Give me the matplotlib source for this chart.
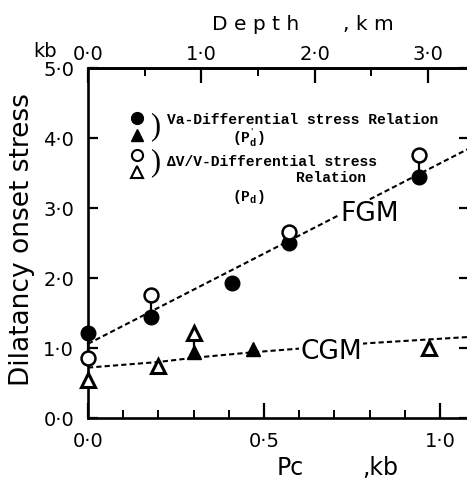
import numpy as np
import matplotlib.pyplot as plt
from matplotlib.ticker import FixedLocator, FuncFormatter

plt.rcParams['mathtext.fontset'] = 'custom'
plt.rcParams['mathtext.rm'] = 'Liberation Mono:bold'
plt.rcParams['mathtext.it'] = 'Liberation Mono:bold'

# Data (Pc in kb, stress in kb)
va_fgm_x = [0.0, 0.18, 0.41, 0.57, 0.94]
va_fgm_y = [1.21, 1.45, 1.93, 2.50, 3.44]
dv_fgm_x = [0.0, 0.18, 0.57, 0.94]
dv_fgm_y = [0.86, 1.76, 2.66, 3.76]
va_cgm_x = [0.30, 0.47]
va_cgm_y = [0.94, 0.98]
dv_cgm_x = [0.0, 0.20, 0.30, 0.97]
dv_cgm_y = [0.55, 0.74, 1.21, 1.00]

# dashed trend lines
fgm_line_x = [0.0, 1.09]
fgm_line_y = [1.06, 3.87]
cgm_line_x = [0.0, 0.20, 0.30, 0.47, 0.80, 1.09]
cgm_line_y = [0.72, 0.80, 0.86, 0.94, 1.07, 1.16]

km_to_kb = 0.322  # top axis conversion

def dot_fmt(v, p):
    return f"{v:.1f}".replace('.', '\u00b7')

W, H = 467, 483
fig = plt.figure(figsize=(W / 100, H / 100), dpi=100)
ax = fig.add_axes([88 / W, (H - 418) / H, (469 - 88) / W, (418 - 68) / H])
ax.set_xlim(0, 381 / 352)
ax.set_ylim(0, 5)

for s in ax.spines.values():
    s.set_linewidth(1.9)

dash = (0, (2.5, 1.5))
ax.plot(fgm_line_x, fgm_line_y, color='black', lw=1.5, ls=dash, zorder=2)
ax.plot(cgm_line_x, cgm_line_y, color='black', lw=1.5, ls=dash, zorder=2)

# stems between paired open/filled symbols
for xs, ys, xo, yo in [(va_fgm_x, va_fgm_y, dv_fgm_x, dv_fgm_y),
                       (va_cgm_x, va_cgm_y, dv_cgm_x, dv_cgm_y)]:
    for x1, y1 in zip(xs, ys):
        for x2, y2 in zip(xo, yo):
            if abs(x1 - x2) < 0.01:
                ax.plot([x1, x1], [y1, y2], color='black', lw=1.6, zorder=2.5,
                        clip_on=False)

ax.plot(va_fgm_x, va_fgm_y, 'o', ms=10.5, color='black', zorder=3, clip_on=False)
ax.plot(va_cgm_x, va_cgm_y, '^', ms=10, color='black', zorder=3, clip_on=False)
ax.plot(dv_fgm_x, dv_fgm_y, 'o', ms=10, mfc='white', mec='black', mew=1.8,
        zorder=4, clip_on=False)
ax.plot(dv_cgm_x, dv_cgm_y, '^', ms=10, mfc='white', mec='black', mew=2.2,
        zorder=4, clip_on=False)

# curve labels
ax.text(0.80, 2.91, 'FGM', fontsize=19, ha='center', va='center',
        bbox=dict(fc='white', ec='none', pad=1), zorder=3)
ax.text(0.69, 0.94, 'CGM', fontsize=19, ha='center', va='center',
        bbox=dict(fc='white', ec='none', pad=1), zorder=3)

# legend drawn by hand
lx = 0.139
ax.plot(lx, 4.28, 'o', ms=8.5, color='black')
ax.plot(lx, 4.04, '^', ms=8, color='black')
ax.plot(lx, 3.76, 'o', ms=8, mfc='white', mec='black', mew=1.5)
ax.plot(lx, 3.52, '^', ms=8, mfc='white', mec='black', mew=1.5)
ax.text(0.19, 4.16, ')', fontsize=22, family='Liberation Serif', ha='center',
        va='center')
ax.text(0.19, 3.64, ')', fontsize=22, family='Liberation Serif', ha='center',
        va='center')
mono = dict(family='Liberation Mono', fontsize=10.5, weight='bold')
ax.text(0.225, 4.25, 'Va-Differential stress Relation', va='center', **mono)
ax.text(0.225, 3.65, '\u0394V/V-Differential stress', va='center', **mono)
ax.text(0.59, 3.43, 'Relation', va='center', **mono)
ax.text(0.455, 4.00, r"(P$^{'}_{\mathrm{d}}$)", va='center', ha='center', **mono)
ax.text(0.455, 3.16, r"(P$_{\mathrm{d}}$)", va='center', ha='center', **mono)

# ticks
ax.xaxis.set_major_locator(FixedLocator([0.0, 0.5, 1.0]))
ax.xaxis.set_minor_locator(FixedLocator(np.arange(0.1, 1.05, 0.1)))
ax.yaxis.set_major_locator(FixedLocator([0, 1, 2, 3, 4, 5]))
ax.xaxis.set_major_formatter(FuncFormatter(dot_fmt))
ax.yaxis.set_major_formatter(FuncFormatter(dot_fmt))
ax.tick_params(axis='x', which='major', direction='in', length=11, width=1.6,
               labelsize=14, pad=10, top=False)
ax.tick_params(axis='x', which='minor', direction='in', length=5.5, width=1.4,
               top=False)
ax.tick_params(axis='y', which='major', direction='in', length=7, width=1.6,
               labelsize=14, pad=10, right=True)

sec = ax.secondary_xaxis('top', functions=(lambda x: x / km_to_kb,
                                           lambda d: d * km_to_kb))
sec.spines['top'].set_linewidth(1.9)
sec.xaxis.set_major_locator(FixedLocator([0.0, 1.0, 2.0, 3.0]))
sec.xaxis.set_minor_locator(FixedLocator([0.5, 1.5, 2.5]))
sec.xaxis.set_major_formatter(FuncFormatter(dot_fmt))
sec.tick_params(which='major', direction='in', length=11, width=1.6,
                labelsize=14, pad=3)
sec.tick_params(which='minor', direction='in', length=5.5, width=1.4)

# axis labels
fig.text(22 / W, 1 - 240 / H, 'Dilatancy onset stress', rotation=90,
         fontsize=19, ha='center', va='center')
fig.text(212 / W, 1 - 30 / H, 'D e p t h', fontsize=14.5, ha='left',
         va='baseline')
fig.text(343 / W, 1 - 30 / H, ', k m', fontsize=14.5, ha='left', va='baseline')
fig.text(33 / W, 1 - 57 / H, 'kb', fontsize=14, ha='left', va='baseline')
fig.text(277 / W, 1 - 475 / H, 'Pc', fontsize=17, ha='left', va='baseline')
fig.text(362 / W, 1 - 475 / H, ',kb', fontsize=17, ha='left', va='baseline')

fig.savefig('out.png', dpi=100)
